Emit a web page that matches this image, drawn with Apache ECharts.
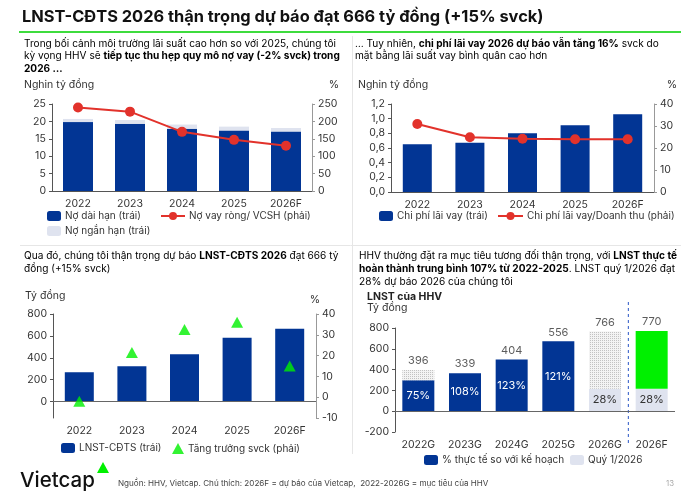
<!DOCTYPE html>
<html>
<head>
<meta charset="utf-8">
<script src="https://cdn.jsdelivr.net/npm/echarts@6/dist/echarts.min.js"></script>
<style>
html,body{margin:0;padding:0;background:#fff}
#chart{width:684px;height:496px}
</style>
</head>
<body>
<div id="chart"></div>
<script>
// panel 1: debt
var years = ['2022', '2023', '2024', '2025', '2026F'];
var longDebt = [19.8, 19.3, 17.9, 17.4, 17.1];
var shortDebt = [0.9, 1.1, 1.2, 1.1, 1.0];
var netDebtEquity = [240, 228, 170, 147, 130];
// panel 2: interest cost
var interestCost = [0.65, 0.67, 0.80, 0.91, 1.06];
var interestToRevenue = [30.9, 24.9, 24.2, 24.0, 24.0];
// panel 3: profit
var profit = [268, 322, 432, 584, 666];
var profitGrowth = [-2, 21.5, 32.5, 36, 15];
// panel 4: targets vs actual
var targetYears = ['2022G', '2023G', '2024G', '2025G', '2026G', '2026F'];
var targets = [396, 339, 404, 556, 766, 770];
var actualProfit = [298, 366, 497, 673, null, null];
var achievedPct = [75, 108, 123, 121, null, null];
var q1Profit = [null, null, null, null, 215, 215];
var q1Pct = [null, null, null, null, 28, 28];
var forecastIdx = 5;

var blue = '#023594', red = '#e2322b', light = '#dfe3ef', green = '#00f000';
var font = 'Inter, "Noto Sans", sans-serif';
var txt = '#333';
var fs = 10.5;
var pfs = 10.1;

// dotted fill for the unmet part of targets
var dots = document.createElement('canvas');
dots.width = 2; dots.height = 2;
var dc = dots.getContext('2d');
dc.fillStyle = '#f3f3f3'; dc.fillRect(0, 0, 2, 2);
dc.fillStyle = '#c2c2c2'; dc.fillRect(0, 0, 1, 1);

var restDotted = targets.map(function (t, i) {
    if (i === forecastIdx) return '-';
    var base = actualProfit[i] != null ? actualProfit[i] : q1Profit[i];
    return t > base ? t - base : '-';
});
var restGreen = targets.map(function (t, i) {
    return i === forecastIdx ? t - q1Profit[i] : '-';
});
var labelTops = targets.map(function (t, i) {
    var base = actualProfit[i] != null ? actualProfit[i] : q1Profit[i];
    return Math.max(t, base);
});

function nz(arr) { return arr.map(function (v) { return v == null ? '-' : v; }); }

var labelStyle = {fontFamily: font, fontSize: fs, color: txt};

function catAxis(gi, data, showLine) {
    return {
        type: 'category', gridIndex: gi, data: data,
        axisLine: {show: showLine, lineStyle: {color: '#555'}},
        axisTick: {show: false},
        axisLabel: Object.assign({margin: 7}, labelStyle)
    };
}
function valAxis(gi, pos, min, max, interval, extra) {
    var a = {
        type: 'value', gridIndex: gi, position: pos, min: min, max: max, interval: interval,
        splitLine: {show: false},
        axisLine: {show: true, lineStyle: {color: pos === 'left' ? '#555' : '#999'}},
        axisTick: {show: true, length: 3, lineStyle: {color: pos === 'left' ? '#555' : '#999'}},
        axisLabel: Object.assign({margin: 6}, labelStyle)
    };
    return Object.assign(a, extra || {});
}
function leg(name, left, cy, w, h) {
    return {
        data: [name], left: left, top: cy - 7, itemWidth: w, itemHeight: h,
        padding: 0, itemGap: 0, selectedMode: false,
        textStyle: {fontFamily: font, fontSize: 10, color: txt, padding: [0, 0, 0, -1]}
    };
}
function para(x, y, parts) {
    var s = parts.map(function (p) { return '{' + (p[1] ? 'b' : 'n') + '|' + p[0] + '}'; }).join('');
    return {
        type: 'text', x: x, y: y, silent: true,
        style: {
            text: s, verticalAlign: 'middle',
            rich: {
                n: {fontFamily: font, fontSize: pfs, color: txt},
                b: {fontFamily: font, fontSize: pfs, color: '#222', fontWeight: 'bold'}
            }
        }
    };
}
function plain(x, y, s, opt) {
    return {
        type: 'text', x: x, y: y, silent: true,
        style: Object.assign({text: s, fontFamily: font, fontSize: fs, fill: txt, verticalAlign: 'middle'}, opt || {})
    };
}

var zeroLine = {
    silent: true, symbol: 'none', label: {show: false},
    lineStyle: {color: '#666', type: 'solid', width: 1},
    data: [{yAxis: 0}]
};

var option = {
    animation: false,
    backgroundColor: '#fff',
    grid: [
        {left: 52, top: 104, width: 260, height: 87},
        {left: 391, top: 104, width: 263, height: 88},
        {left: 53, top: 314, width: 263, height: 104},
        {left: 395, top: 328, width: 280, height: 104}
    ],
    xAxis: [
        catAxis(0, years, true),
        catAxis(1, years, true),
        catAxis(2, years, false),
        catAxis(3, targetYears, false)
    ],
    yAxis: [
        valAxis(0, 'left', 0, 25, 5),
        valAxis(0, 'right', 0, 250, 50),
        valAxis(1, 'left', 0, 1.2, 0.2, {axisLabel: Object.assign({margin: 6, formatter: function (v) { return v.toFixed(1).replace('.', ','); }}, labelStyle)}),
        valAxis(1, 'right', 0, 40, 10),
        valAxis(2, 'left', -150, 800, null, {
            axisLabel: Object.assign({margin: 6, customValues: [0, 200, 400, 600, 800]}, labelStyle),
            axisTick: {show: true, length: 3, customValues: [0, 200, 400, 600, 800], lineStyle: {color: '#555'}}
        }),
        valAxis(2, 'right', -10, 40, 10),
        valAxis(3, 'left', -200, 800, 200)
    ],
    legend: [
        leg('Nợ dài hạn (trái)', 47, 218, 14, 10),
        leg('Nợ vay ròng/ VCSH (phải)', 160, 218, 24, 10),
        leg('Nợ ngắn hạn (trái)', 47, 233, 14, 10),
        leg('Chi phí lãi vay (trái)', 379, 218, 14, 10),
        leg('Chi phí lãi vay/Doanh thu (phải)', 497, 218, 25, 10),
        leg('LNST-CĐTS (trái)', 61, 450, 14, 10),
        leg('Tăng trưởng svck (phải)', 172, 450, 12, 11),
        leg('% thực tế so với kế hoạch', 424, 462, 14, 10),
        leg('Quý 1/2026', 570, 462, 14, 10)
    ],
    series: [
        {name: 'Nợ dài hạn (trái)', type: 'bar', xAxisIndex: 0, yAxisIndex: 0, stack: 'debt', barWidth: 30,
            itemStyle: {color: blue}, data: longDebt},
        {name: 'Nợ ngắn hạn (trái)', type: 'bar', xAxisIndex: 0, yAxisIndex: 0, stack: 'debt', barWidth: 30,
            itemStyle: {color: light}, data: shortDebt},
        {name: 'Nợ vay ròng/ VCSH (phải)', type: 'line', xAxisIndex: 0, yAxisIndex: 1,
            symbol: 'circle', symbolSize: 10, itemStyle: {color: red}, lineStyle: {color: red, width: 2}, data: netDebtEquity},

        {name: 'Chi phí lãi vay (trái)', type: 'bar', xAxisIndex: 1, yAxisIndex: 2, barWidth: 29,
            itemStyle: {color: blue}, data: interestCost},
        {name: 'Chi phí lãi vay/Doanh thu (phải)', type: 'line', xAxisIndex: 1, yAxisIndex: 3,
            symbol: 'circle', symbolSize: 10, itemStyle: {color: red}, lineStyle: {color: red, width: 2}, data: interestToRevenue},

        {name: 'LNST-CĐTS (trái)', type: 'bar', xAxisIndex: 2, yAxisIndex: 4, barWidth: 29,
            itemStyle: {color: blue}, data: profit, markLine: zeroLine},
        {name: 'Tăng trưởng svck (phải)', type: 'scatter', xAxisIndex: 2, yAxisIndex: 5,
            symbol: 'triangle', symbolSize: [12, 11], itemStyle: {color: green}, data: profitGrowth, z: 5},

        {name: '% thực tế so với kế hoạch', type: 'bar', xAxisIndex: 3, yAxisIndex: 6, stack: 'plan', barWidth: 32,
            itemStyle: {color: blue}, data: nz(actualProfit), markLine: zeroLine,
            label: {show: true, position: 'inside', fontFamily: font, fontSize: 11, color: '#fff',
                formatter: function (p) { return achievedPct[p.dataIndex] + '%'; }}},
        {name: 'Quý 1/2026', type: 'bar', xAxisIndex: 3, yAxisIndex: 6, stack: 'plan', barWidth: 32,
            itemStyle: {color: light}, data: nz(q1Profit),
            label: {show: true, position: 'inside', fontFamily: font, fontSize: 11, color: txt,
                formatter: function (p) { return q1Pct[p.dataIndex] + '%'; }}},
        {name: 'Mục tiêu còn lại', type: 'bar', xAxisIndex: 3, yAxisIndex: 6, stack: 'plan', barWidth: 32,
            itemStyle: {color: {image: dots, repeat: 'repeat'}}, data: restDotted},
        {name: 'Dự báo 2026F', type: 'bar', xAxisIndex: 3, yAxisIndex: 6, stack: 'plan', barWidth: 32,
            itemStyle: {color: green}, data: restGreen},
        {name: 'Nhãn mục tiêu', type: 'scatter', xAxisIndex: 3, yAxisIndex: 6, symbolSize: 1,
            itemStyle: {color: 'rgba(0,0,0,0)'}, data: labelTops,
            label: {show: true, position: 'top', distance: 3, fontFamily: font, fontSize: 11, color: txt,
                formatter: function (p) { return String(targets[p.dataIndex]); }}}
    ],
    graphic: [
        plain(22, 17, 'LNST-CĐTS 2026 thận trọng dự báo đạt 666 tỷ đồng (+15% svck)', {fontSize: 16.4, fontWeight: 'bold', fill: '#111'}),
        {type: 'line', silent: true, shape: {x1: 19, y1: 32, x2: 681, y2: 32}, style: {stroke: '#3ddc3d', lineWidth: 2}},
        {type: 'line', silent: true, shape: {x1: 20, y1: 245.5, x2: 681, y2: 245.5}, style: {stroke: '#e6e6e6', lineWidth: 1}},
        {type: 'line', silent: true, shape: {x1: 352.5, y1: 36, x2: 352.5, y2: 454}, style: {stroke: '#e6e6e6', lineWidth: 1}},

        para(24, 43.5, [['Trong bối cảnh môi trường lãi suất cao hơn so với 2025, chúng tôi', false]]),
        para(24, 56, [['kỳ vọng HHV sẽ ', false], ['tiếp tục thu hẹp quy mô nợ vay (-2% svck) trong', true]]),
        para(24, 68.5, [['2026 …', true]]),
        plain(24, 85, 'Nghin tỷ đồng'),
        plain(339, 85, '%', {align: 'right'}),

        para(355, 43.5, [['… Tuy nhiên, ', false], ['chi phí lãi vay 2026 dự báo vẫn tăng 16%', true], [' svck do', false]]),
        para(355, 56, [['mặt bằng lãi suất vay bình quân cao hơn', false]]),
        plain(358, 85, 'Nghin tỷ đồng'),
        plain(677, 85, '%', {align: 'right'}),

        para(24, 255.5, [['Qua đó, chúng tôi thận trọng dự báo ', false], ['LNST-CĐTS 2026', true], [' đạt 666 tỷ', false]]),
        para(24, 268.5, [['đồng (+15% svck)', false]]),
        plain(25, 296, 'Tỷ đồng'),
        plain(320, 300, '%', {align: 'right'}),

        para(359, 255.5, [['HHV thường đặt ra mục tiêu tương đối thận trọng, với ', false], ['LNST thực tế', true]]),
        para(359, 269, [['hoàn thành trung bình 107% từ 2022-2025', true], ['. LNST quý 1/2026 đạt', false]]),
        para(359, 282, [['28% dự báo 2026 của chúng tôi', false]]),
        plain(367, 297, 'LNST của HHV', {fontWeight: 'bold', fill: '#222'}),
        plain(367, 308, 'Tỷ đồng'),

        plain(20, 481, 'Vietcap', {fontSize: 20.5, fontWeight: 500, fill: '#111'}),
        {type: 'polygon', silent: true, shape: {points: [[103, 462], [109, 473], [97, 473]]}, style: {fill: green}},
        plain(118, 484, 'Nguồn: HHV, Vietcap. Chú thích: 2026F = dự báo của Vietcap,  2022-2026G = mục tiêu của HHV', {fontSize: 8.1, fill: '#444'}),
        plain(674, 484, '13', {fontSize: 7.8, fill: '#aaa', align: 'right'})
    ]
};

var chart = echarts.init(document.getElementById('chart'));
chart.setOption(option);

// dashed divider between the targets and our forecast
var xa = chart.convertToPixel({xAxisIndex: 3}, targetYears[forecastIdx - 1]);
var xb = chart.convertToPixel({xAxisIndex: 3}, targetYears[forecastIdx]);
chart.setOption({
    graphic: option.graphic.concat([{
        type: 'line', silent: true,
        shape: {x1: (xa + xb) / 2, y1: 302, x2: (xa + xb) / 2, y2: 446},
        style: {stroke: '#2a56c6', lineWidth: 1, lineDash: [3, 3]}
    }])
});
</script>
</body>
</html>
